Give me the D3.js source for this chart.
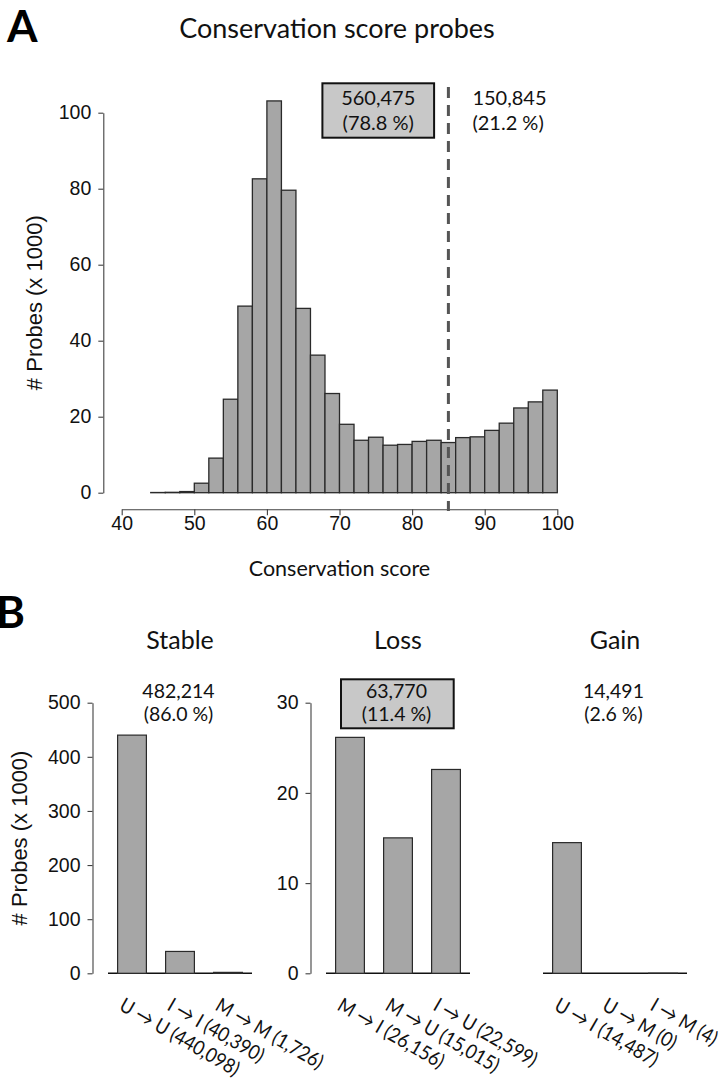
<!DOCTYPE html>
<html>
<head>
<meta charset="utf-8">
<script src="https://cdn.jsdelivr.net/npm/d3@7"></script>
<style>
  body { margin: 0; background: #fff; }
  svg { display: block; }
  .arial { font-family: "Liberation Sans", Arial, sans-serif; }
  .hum { font-family: Lato, "DejaVu Sans", sans-serif; }
</style>
</head>
<body>
<svg id="chart" width="723" height="1080"></svg>
<script>
// ---- Panel A: histogram of conservation scores (counts x 1000) ----
const binStarts = [44, 46, 48, 50, 52, 54, 56, 58, 60, 62, 64, 66, 68, 70,
                   72, 74, 76, 78, 80, 82, 84, 86, 88, 90, 92, 94, 96, 98];
const binWidth = 2;
const binCounts = [0.05, 0.1, 0.3, 2.5, 9.1, 24.6, 49.1, 82.6, 103.1, 79.6, 48.5, 36.2, 26.1, 18.0,
                   13.8, 14.6, 12.5, 12.7, 13.5, 13.8, 13.2, 14.5, 14.7, 16.4, 18.3, 22.3, 23.9, 27.0];
const scoreThreshold = 85;
const histTicksX = [40, 50, 60, 70, 80, 90, 100];
const histTicksY = [0, 20, 40, 60, 80, 100];
const belowThresholdText = ["560,475", "(78.8 %)"];
const aboveThresholdText = ["150,845", "(21.2 %)"];

// ---- Panel B: methylation state transitions (counts x 1000) ----
const groupTitles = ["Stable", "Loss", "Gain"];
const stableLabels = ["U \u2192 U (440,098)", "I \u2192 I (40,390)", "M \u2192 M (1,726)"];
const stableValues = [440.098, 40.390, 1.726];
const lossLabels = ["M \u2192 I (26,156)", "M \u2192 U (15,015)", "I \u2192 U (22,599)"];
const lossValues = [26.156, 15.015, 22.599];
const gainLabels = ["U \u2192 I (14,487)", "U \u2192 M (0)", "I \u2192 M (4)"];
const gainValues = [14.487, 0, 0.004];
const groupTotals = [["482,214", "(86.0 %)"], ["63,770", "(11.4 %)"], ["14,491", "(2.6 %)"]];
const stableTicks = [0, 100, 200, 300, 400, 500];
const changeTicks = [0, 10, 20, 30];

const BAR_FILL = "#a6a6a6";
const BAR_STROKE = "#2a2a2a";
const BOX_FILL = "#c8c8c8";

const svg = d3.select("#chart");

function styleAxis(g) {
  g.selectAll(".domain, .tick line").attr("stroke", "#404040").attr("stroke-width", 1.1);
  g.selectAll(".tick text").attr("class", "arial").attr("font-size", 19.5).attr("fill", "#111");
  g.attr("font-family", null);
}

// ================= Panel A =================
const x = d3.scaleLinear().domain([40, 100]).range([121.7, 557.3]);
const y = d3.scaleLinear().domain([0, 100]).range([492.7, 112.7]);

svg.append("text").attr("class", "hum").attr("x", 7).attr("y", 42)
  .attr("font-size", 44).attr("font-weight", 700).attr("fill", "#000").text("A");

svg.append("text").attr("class", "hum").attr("x", 337).attr("y", 38)
  .attr("text-anchor", "middle").attr("font-size", 27).attr("fill", "#111")
  .text("Conservation score probes");

svg.append("g").selectAll("rect").data(binStarts).join("rect")
  .attr("x", (d) => x(d))
  .attr("width", (d) => x(d + binWidth) - x(d))
  .attr("y", (d, i) => y(binCounts[i]))
  .attr("height", (d, i) => y(0) - y(binCounts[i]))
  .attr("fill", BAR_FILL).attr("stroke", BAR_STROKE).attr("stroke-width", 1.3);

svg.append("g").attr("transform", "translate(103.3,0)")
  .call(d3.axisLeft(y).tickValues(histTicksY).tickSize(5).tickSizeOuter(0).tickPadding(7))
  .call(styleAxis);

svg.append("g").attr("transform", "translate(0,509.3)")
  .call(d3.axisBottom(x).tickValues(histTicksX).tickSize(6).tickSizeOuter(0).tickPadding(1))
  .call(styleAxis);

svg.append("text").attr("class", "arial")
  .attr("transform", `translate(42,${(y(0) + y(100)) / 2}) rotate(-90)`)
  .attr("text-anchor", "middle").attr("font-size", 22).attr("fill", "#111")
  .text("# Probes (x 1000)");

svg.append("text").attr("class", "hum").attr("x", x(70)).attr("y", 576)
  .attr("text-anchor", "middle").attr("font-size", 21.5).attr("fill", "#111")
  .text("Conservation score");

// threshold line
const tx = x(scoreThreshold);
svg.append("line").attr("x1", tx).attr("x2", tx).attr("y1", 87).attr("y2", 511)
  .attr("stroke", "#555").attr("stroke-width", 3).attr("stroke-dasharray", "11,7");

// share below the threshold (boxed)
const boxA = { x: tx - 126, y: 83.3, w: 111.7, h: 54.4 };
svg.append("rect").attr("x", boxA.x).attr("y", boxA.y).attr("width", boxA.w).attr("height", boxA.h)
  .attr("fill", BOX_FILL).attr("stroke", "#111").attr("stroke-width", 2);
belowThresholdText.forEach((t, i) => {
  svg.append("text").attr("class", "hum").attr("x", boxA.x + boxA.w / 2).attr("y", 105 + i * 25)
    .attr("text-anchor", "middle").attr("font-size", 20).attr("fill", "#111").text(t);
});
// share above the threshold
aboveThresholdText.forEach((t, i) => {
  svg.append("text").attr("class", "hum").attr("x", tx + 24).attr("y", 105 + i * 25)
    .attr("font-size", 20).attr("fill", "#111").text(t);
});

// ================= Panel B =================
svg.append("text").attr("class", "hum").attr("x", -4).attr("y", 628)
  .attr("font-size", 44).attr("font-weight", 700).attr("fill", "#000").text("B");

const baseY = 973.3, topY = 702.7;
const yStable = d3.scaleLinear().domain([0, 500]).range([baseY, topY]);
const yChange = d3.scaleLinear().domain([0, 30]).range([baseY, topY]);

const groups = [
  { labels: stableLabels, values: stableValues, y: yStable, left: 108, axis: stableTicks },
  { labels: lossLabels, values: lossValues, y: yChange, left: 326, axis: changeTicks },
  { labels: gainLabels, values: gainValues, y: yChange, left: 543, axis: null }
];
const groupWidth = 144;

groups.forEach((grp, gi) => {
  const bx = d3.scaleBand().domain(grp.labels).range([grp.left, grp.left + groupWidth])
    .paddingInner(0.4).paddingOuter(0.2);
  const cx = grp.left + groupWidth / 2;

  svg.append("text").attr("class", "hum").attr("x", cx).attr("y", 649)
    .attr("text-anchor", "middle").attr("font-size", 25).attr("fill", "#111")
    .text(groupTitles[gi]);

  if (grp.axis) {
    svg.append("g").attr("transform", `translate(${grp.left - 15.5},0)`)
      .call(d3.axisLeft(grp.y).tickValues(grp.axis).tickSize(5).tickSizeOuter(0).tickPadding(7))
      .call(styleAxis);
  }

  // baseline under the bars
  svg.append("line").attr("x1", grp.left).attr("x2", grp.left + groupWidth)
    .attr("y1", baseY).attr("y2", baseY).attr("stroke", "#111").attr("stroke-width", 1.6);

  svg.append("g").selectAll("rect").data(grp.labels).join("rect")
    .attr("x", (d) => bx(d))
    .attr("width", bx.bandwidth())
    .attr("y", (d, i) => grp.y(grp.values[i]))
    .attr("height", (d, i) => grp.y(0) - grp.y(grp.values[i]))
    .attr("fill", BAR_FILL)
    .attr("stroke", (d, i) => (grp.values[i] > 0 ? BAR_STROKE : "none"))
    .attr("stroke-width", 1.2);

  // slanted category labels, slightly condensed
  svg.append("g").selectAll("text").data(grp.labels).join("text")
    .attr("class", "hum")
    .attr("transform", (d) =>
      `translate(${bx(d) + bx.bandwidth() / 2 - 14},${baseY + 36}) rotate(30) scale(0.9,1)`)
    .attr("font-size", 20).attr("fill", "#111")
    .text((d) => d);

  // group total
  const tot = groupTotals[gi];
  if (gi === 1) {
    svg.append("rect").attr("x", cx - 57).attr("y", 679.3).attr("width", 112.7).attr("height", 49)
      .attr("fill", BOX_FILL).attr("stroke", "#111").attr("stroke-width", 2);
  }
  tot.forEach((t, i) => {
    svg.append("text").attr("class", "hum").attr("x", cx - 1.5).attr("y", 698.3 + i * 23)
      .attr("text-anchor", "middle").attr("font-size", 19.5).attr("fill", "#111").text(t);
  });
});

svg.append("text").attr("class", "arial")
  .attr("transform", `translate(27,${(baseY + topY) / 2}) rotate(-90)`)
  .attr("text-anchor", "middle").attr("font-size", 22).attr("fill", "#111")
  .text("# Probes (x 1000)");
</script>
</body>
</html>
